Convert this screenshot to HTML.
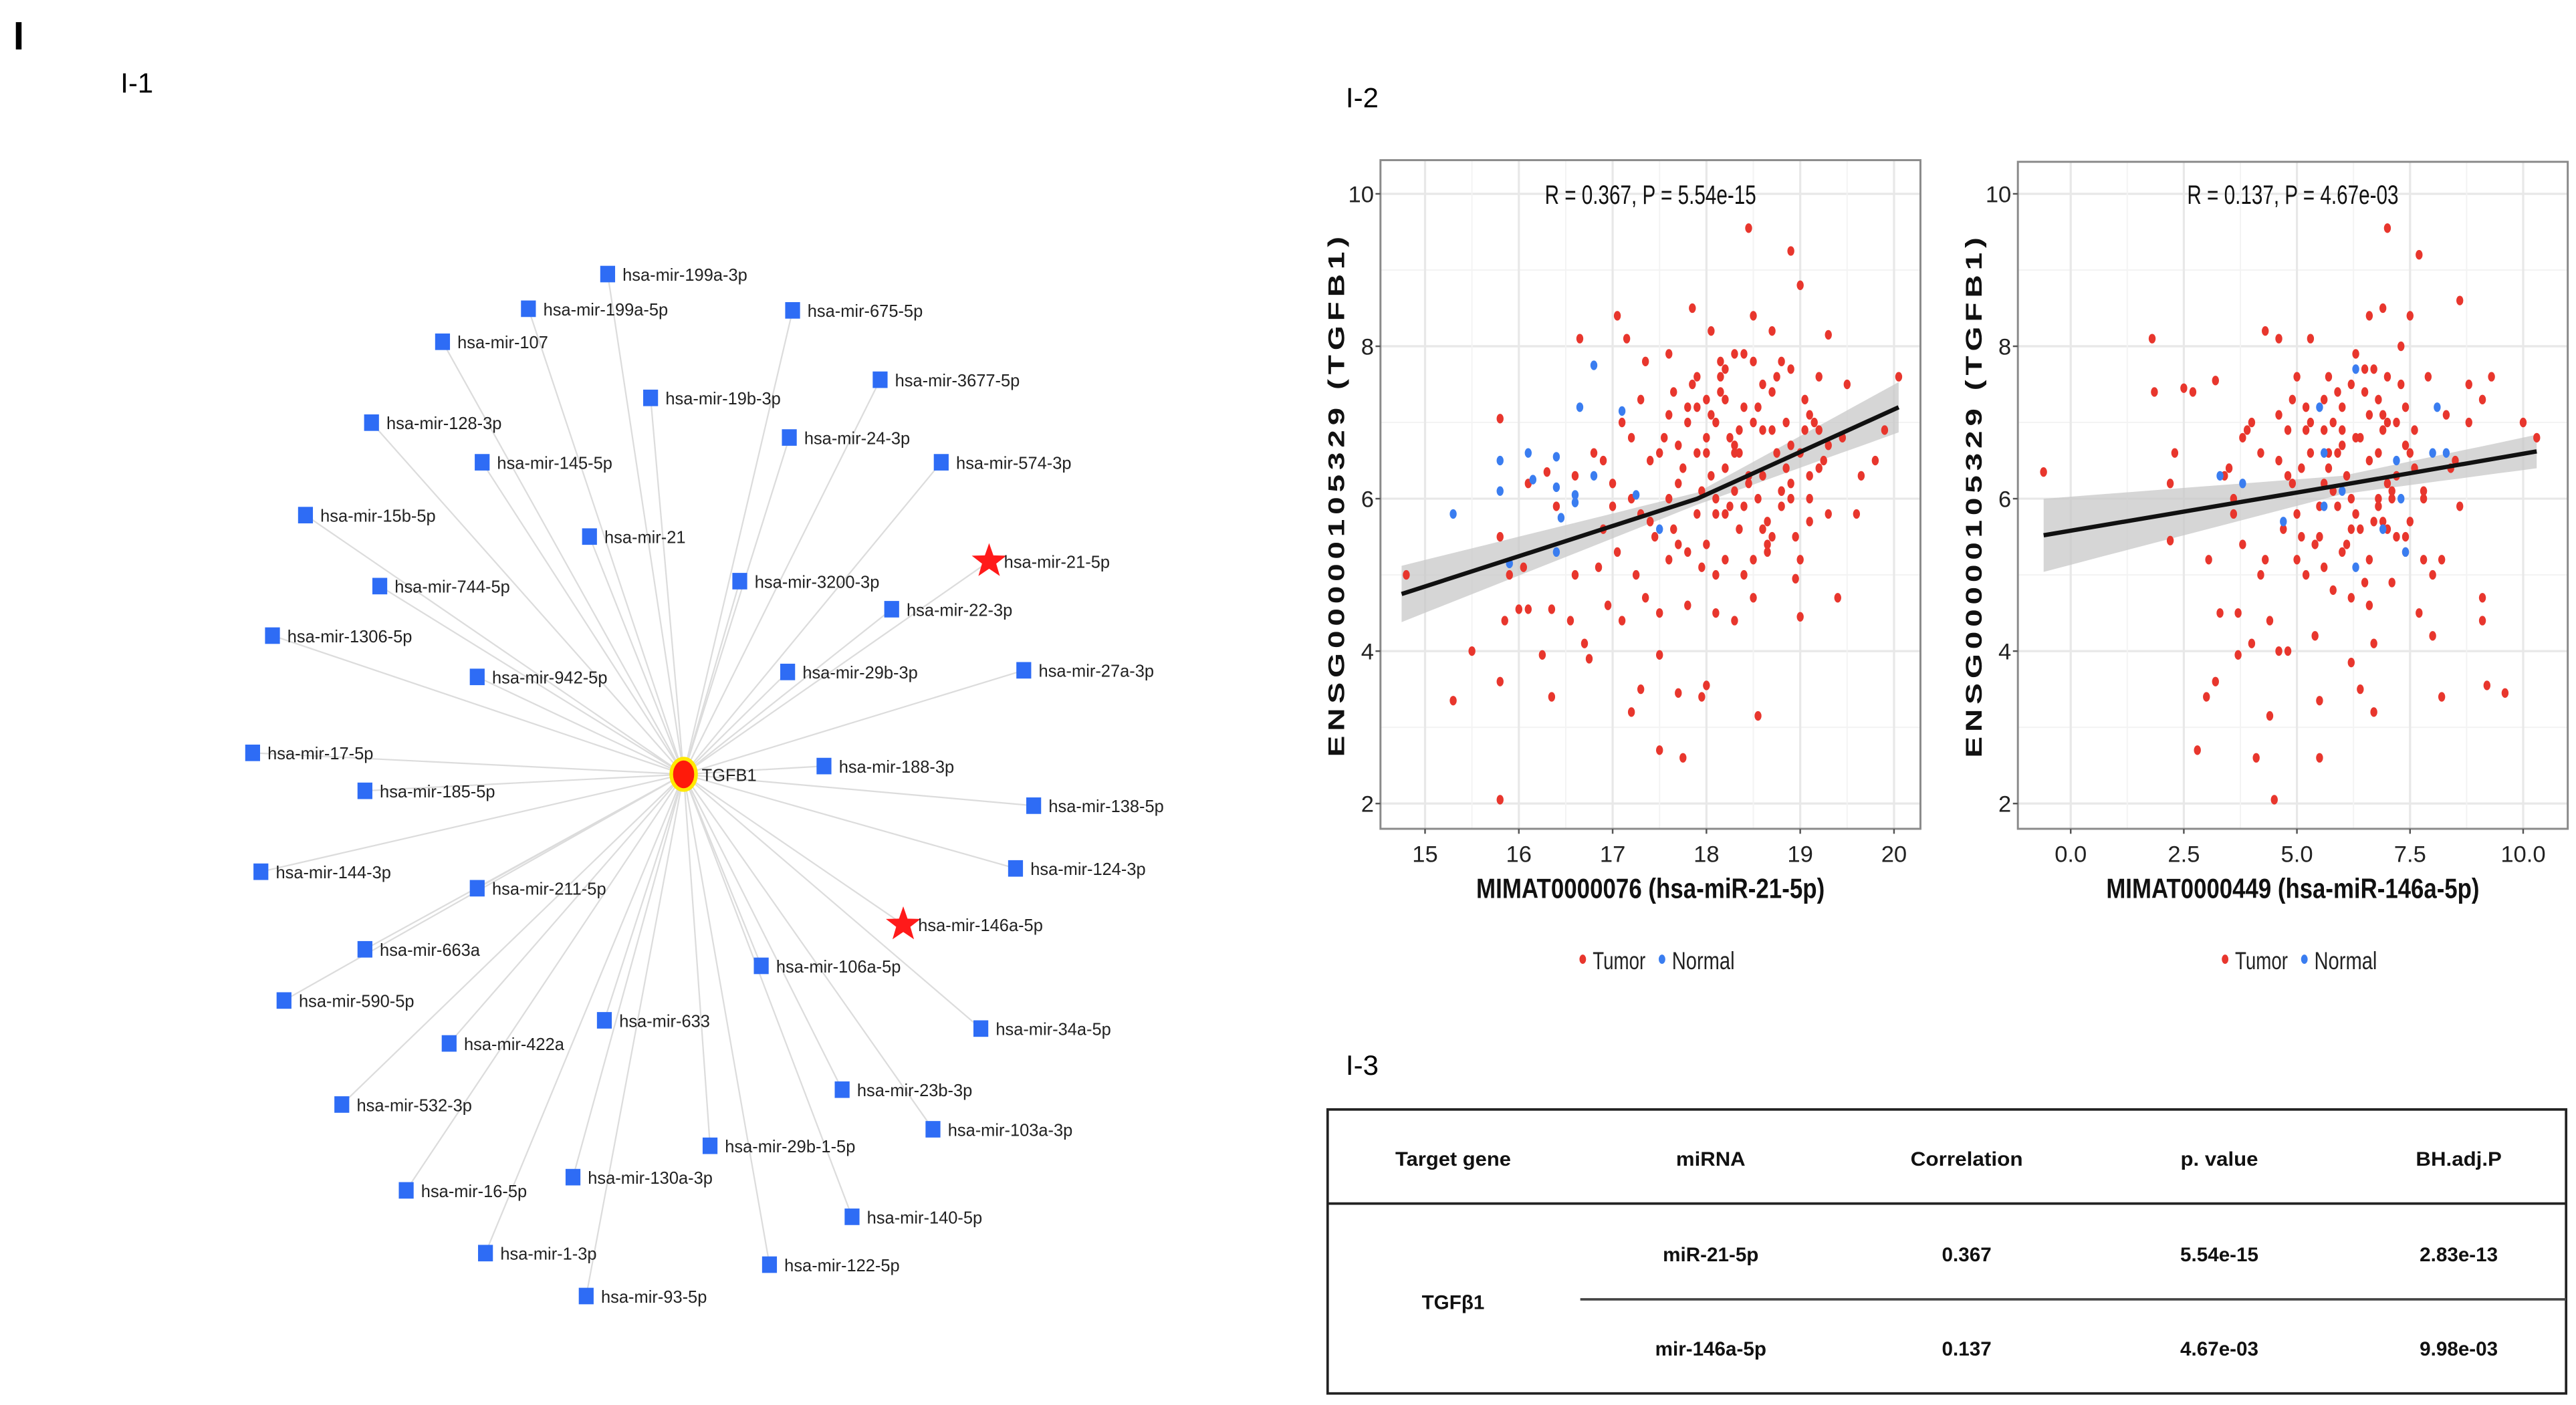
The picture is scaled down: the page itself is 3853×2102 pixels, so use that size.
<!DOCTYPE html>
<html><head><meta charset="utf-8">
<style>
html,body{margin:0;padding:0;background:#fff;}
svg{display:block;}
.nl{font-family:"Liberation Sans",sans-serif;font-size:10.3px;fill:#222;}
.pt{font-family:"Liberation Sans",sans-serif;}
.tb{font-family:"Liberation Sans",sans-serif;font-weight:bold;font-size:12px;fill:#111;}
</style></head>
<body>
<svg id="fig" width="3853" height="2102" viewBox="0 0 1560 851" preserveAspectRatio="none" xmlns="http://www.w3.org/2000/svg">
<text x="8" y="30" font-family="Liberation Sans,sans-serif" font-weight="bold" font-size="24">I</text>
<text x="73" y="56" font-family="Liberation Sans,sans-serif" font-size="17">I-1</text>
<text x="815" y="65" font-family="Liberation Sans,sans-serif" font-size="17">I-2</text>
<text x="815" y="651" font-family="Liberation Sans,sans-serif" font-size="17">I-3</text>
<g id="net"></g>
<g id="p1"></g>
<g id="p2"></g>
<g id="tbl">
  <rect x="804" y="672" width="750" height="172" fill="none" stroke="#222" stroke-width="1.5"/>
  <line x1="804" y1="729" x2="1554" y2="729" stroke="#222" stroke-width="1.5"/>
  <line x1="957" y1="787" x2="1554" y2="787" stroke="#444" stroke-width="1.5"/>
  <g text-anchor="middle" class="tb">
    <text x="880" y="706" textLength="70" lengthAdjust="spacingAndGlyphs">Target gene</text>
    <text x="1036" y="706" textLength="42" lengthAdjust="spacingAndGlyphs">miRNA</text>
    <text x="1191" y="706" textLength="68" lengthAdjust="spacingAndGlyphs">Correlation</text>
    <text x="1344" y="706" textLength="47" lengthAdjust="spacingAndGlyphs">p. value</text>
    <text x="1489" y="706" textLength="52" lengthAdjust="spacingAndGlyphs">BH.adj.P</text>
    <text x="880" y="793">TGFβ1</text>
    <text x="1036" y="764">miR-21-5p</text>
    <text x="1191" y="764">0.367</text>
    <text x="1344" y="764">5.54e-15</text>
    <text x="1489" y="764">2.83e-13</text>
    <text x="1036" y="821">mir-146a-5p</text>
    <text x="1191" y="821">0.137</text>
    <text x="1344" y="821">4.67e-03</text>
    <text x="1489" y="821">9.98e-03</text>
  </g>
</g>
</svg>
<script>
const NS="http://www.w3.org/2000/svg";
// ---- network data ----
const nodeNames=["hsa-mir-199a-3p","hsa-mir-199a-5p","hsa-mir-107","hsa-mir-675-5p","hsa-mir-3677-5p","hsa-mir-19b-3p","hsa-mir-128-3p","hsa-mir-24-3p","hsa-mir-145-5p","hsa-mir-574-3p","hsa-mir-15b-5p","hsa-mir-21","hsa-mir-21-5p","hsa-mir-3200-3p","hsa-mir-744-5p","hsa-mir-22-3p","hsa-mir-1306-5p","hsa-mir-29b-3p","hsa-mir-942-5p","hsa-mir-27a-3p","hsa-mir-17-5p","hsa-mir-188-3p","hsa-mir-185-5p","hsa-mir-138-5p","hsa-mir-144-3p","hsa-mir-124-3p","hsa-mir-211-5p","hsa-mir-146a-5p","hsa-mir-663a","hsa-mir-106a-5p","hsa-mir-590-5p","hsa-mir-633","hsa-mir-34a-5p","hsa-mir-422a","hsa-mir-23b-3p","hsa-mir-532-3p","hsa-mir-103a-3p","hsa-mir-29b-1-5p","hsa-mir-130a-3p","hsa-mir-16-5p","hsa-mir-140-5p","hsa-mir-1-3p","hsa-mir-122-5p","hsa-mir-93-5p"];
const nodeX=[368,320,268,480,533,394,225,478,292,570,185,357,599,448,230,540,165,477,289,620,153,499,221,626,158,615,289,547,221,461,172,366,594,272,510,207,565,430,347,246,516,294,466,355];
const nodeY=[166,187,207,188,230,241,256,265,280,280,312,325,340,352,355,369,385,407,410,406,456,464,479,488,528,526,538,560,575,585,606,618,623,632,660,669,684,694,713,721,737,759,766,785];
const highlighted=["hsa-mir-21-5p","hsa-mir-146a-5p"];
const hub={name:"TGFB1",x:414,y:469};

function el(tag,attrs,parent){const e=document.createElementNS(NS,tag);for(const k in attrs)e.setAttribute(k,attrs[k]);parent.appendChild(e);return e;}
const net=document.getElementById('net');
nodeNames.forEach((n,i)=>{
  const l=el('line',{x1:hub.x,y1:hub.y,x2:nodeX[i],y2:nodeY[i],stroke:'#dcdcdc','stroke-width':0.9},net);
  
  
});
nodeNames.forEach((n,i)=>{
  const g=el('g',{},net);
  
  
  const x=nodeX[i],y=nodeY[i];
  if(highlighted.includes(n)){
    let pts=[];for(let k=0;k<10;k++){const r=k%2?4.5:11;const a=-Math.PI/2+k*Math.PI/5;pts.push((x+r*Math.cos(a)).toFixed(1)+','+(y+r*Math.sin(a)).toFixed(1));}
    el('polygon',{points:pts.join(' '),fill:'#ff1a1a'},g);
  } else {
    el('rect',{x:x-4.5,y:y-5,width:9,height:10,fill:'#2e6cf5'},g);
  }
  const t=el('text',{x:x+9,y:y+4,class:'nl'},g);t.textContent=n;
});
{
  const g=el('g',{},net);
  
  
  el('ellipse',{cx:hub.x,cy:hub.y,rx:7.5,ry:9.5,fill:'#ff1a0a',stroke:'#ffe800','stroke-width':2.2},g);
  const t=el('text',{x:hub.x+11,y:hub.y+4,class:'nl'},g);t.textContent=hub.name;
}

// ---- scatter 1 data ----
const p1TumorX=[14.8,15.3,15.5,15.8,15.8,15.8,15.8,15.85,15.9,16,16.05,16.1,16.1,16.25,16.3,16.35,16.35,16.4,16.55,16.6,16.6,16.65,16.7,16.75,16.8,16.85,16.9,16.95,17.0,17.05,17.05,17.1,17.1,17.15,17.2,17.2,17.25,17.3,17.3,17.35,17.35,17.4,17.45,17.5,17.5,17.5,17.55,17.6,17.65,17.7,17.7,17.75,17.8,17.8,17.85,17.9,17.9,17.95,18.0,18.0,18.0,18.05,18.1,18.1,18.15,18.2,18.25,18.3,18.3,18.35,18.4,18.45,18.45,18.5,18.5,18.55,18.55,18.6,18.65,18.7,18.75,18.8,18.85,18.9,18.9,18.95,19.0,19.0,19.0,19.05,19.1,19.2,19.25,19.3,19.3,19.4,19.45,19.5,19.6,19.65,19.8,19.9,20.05,18.2,17.95,18.6,18.3,17.6,18.9,18.0,18.4,18.7,17.3,18.1,19.1,17.8,18.5,18.2,17.7,18.8,18.35,17.9,18.15,18.65,19.2,17.4,18.05,
17.6,17.75,17.85,17.95,18.05,18.15,18.25,18.35,18.45,18.55,18.65,18.75,18.85,18.95,19.05,19.15,17.65,17.8,18.0,18.1,18.2,18.3,18.4,18.5,18.6,18.7,18.8,18.9,19.0,19.1,17.5,17.7,17.9,18.1,18.3,18.5,18.7,18.9,19.1,19.3,16.9,17.0,17.2,17.4,17.6,18.2,18.4,18.6,18.8,19.2];
const p1TumorY=[5.0,3.35,4.0,3.6,2.05,7.05,5.5,4.4,5.0,4.55,5.1,4.55,6.2,3.95,6.35,3.4,4.55,5.9,4.4,6.3,5.0,8.1,4.1,3.9,6.6,5.1,5.6,4.6,6.2,5.3,8.4,4.4,7.0,8.1,3.2,6.0,5.0,7.3,3.5,7.8,4.7,6.5,5.5,3.95,4.5,2.7,6.8,5.2,7.4,6.2,3.45,2.6,4.6,7.0,8.5,5.8,6.6,3.4,3.55,7.3,5.4,8.2,6.0,4.5,7.6,5.2,6.8,7.9,4.4,5.6,7.2,6.3,9.55,4.7,8.4,3.15,6.0,7.5,5.3,8.2,6.6,5.9,7.0,9.25,6.2,4.95,8.8,5.2,4.45,7.3,6.0,7.6,6.5,5.8,8.15,4.7,6.8,7.5,5.8,6.3,6.5,6.9,7.6,6.4,6.1,6.9,6.1,6.0,6.7,6.8,5.0,5.5,5.8,7.0,6.3,5.3,7.8,5.8,6.7,6.1,6.6,7.2,7.4,5.4,6.4,5.7,7.1,
7.1,6.4,7.5,5.1,6.3,7.8,5.9,6.9,6.2,7.2,5.7,7.6,6.4,5.5,6.9,7.0,5.6,7.2,6.6,5.0,7.3,6.7,5.9,7.0,6.3,7.4,6.1,7.7,6.6,5.7,6.6,5.4,7.6,5.8,6.6,5.2,6.9,6.0,7.1,6.7,6.5,5.9,6.8,5.7,7.9,7.7,7.9,5.6,7.8,6.9];
const p1NormalX=[15.3,15.8,15.8,15.9,16.1,16.15,16.4,16.4,16.45,16.4,16.6,16.6,16.65,16.8,16.8,17.1,17.25,17.5];
const p1NormalY=[5.8,6.5,6.1,5.15,6.6,6.25,6.55,6.15,5.75,5.3,6.05,5.95,7.2,7.75,6.3,7.15,6.05,5.6];
const p1FitX=[14.75,17.9,20.05];
const p1FitY=[4.75,6.0,7.2];
const p1Band=[0.37,0.08,0.33];
const p1XTicks=["15","16","17","18","19","20"];
const p1Title="MIMAT0000076 (hsa-miR-21-5p)";
const p1Stat="R = 0.367, P = 5.54e-15";

// ---- scatter 2 data ----
const p2TumorX=[-0.6,1.8,1.85,2.5,2.7,2.2,2.3,2.2,2.8,3.0,3.05,3.2,3.3,3.2,3.6,3.6,3.7,3.7,3.5,3.4,3.8,3.8,4.0,4.0,4.1,4.2,4.3,4.3,4.4,4.4,4.5,4.6,4.6,4.6,4.7,4.8,4.8,5.0,5.0,5.1,5.2,5.3,5.4,5.5,5.5,5.5,5.6,5.7,5.8,5.9,6.0,6.0,6.2,6.2,6.3,6.4,6.5,6.6,6.6,6.7,6.7,6.8,6.9,6.9,7.0,7.0,7.1,7.2,7.3,7.4,7.5,7.5,7.7,7.7,7.8,7.9,8.0,8.0,8.2,8.2,8.3,8.5,8.6,8.6,8.8,9.1,9.1,9.1,9.3,9.2,9.6,10.0,10.3,6.4,6.1,6.8,5.9,7.2,6.5,5.6,7.0,6.2,5.3,7.6,6.6,5.8,4.9,6.9,6.7,7.1,6.3,5.2,7.4,6.0,6.8,5.7,7.8,
5.0,5.2,5.4,5.6,5.8,6.0,6.2,6.4,6.6,6.8,7.0,7.2,7.4,7.6,4.8,5.1,5.3,5.5,5.7,5.9,6.1,6.3,6.5,6.7,6.9,7.1,7.3,7.5,4.6,4.9,5.6,6.2,6.6,7.0,7.4,7.8,8.4,3.9,4.2,8.8];
const p2TumorY=[6.35,8.1,7.4,7.45,7.4,6.2,6.6,5.45,2.7,3.4,5.2,3.6,4.5,7.55,6.0,5.8,4.5,3.95,6.4,6.3,5.4,6.8,7.0,4.1,2.6,6.6,8.2,5.2,3.15,4.4,2.05,8.1,7.1,4.0,5.6,4.0,6.9,7.6,5.2,6.4,7.2,8.1,4.2,5.5,3.35,2.6,6.9,7.6,4.8,6.6,7.2,5.3,3.85,6.0,7.9,3.5,4.9,8.4,6.5,3.2,4.1,7.3,5.7,8.5,6.2,9.55,4.9,7.0,8.0,5.3,8.4,6.6,9.2,4.5,6.0,7.6,5.0,4.2,5.2,3.4,7.1,6.5,8.6,5.9,7.5,4.4,4.7,7.3,7.6,3.55,3.45,7.0,6.8,6.8,6.3,6.6,5.9,6.3,7.4,6.2,5.6,5.6,6.6,6.9,5.2,7.0,6.2,7.1,7.7,6.0,5.8,5.0,5.5,6.9,5.9,6.4,6.1,
5.8,6.9,5.4,7.3,6.1,6.7,7.5,5.6,7.1,6.0,7.6,5.5,7.2,6.4,6.3,5.5,7.0,5.9,6.6,7.4,5.4,6.8,7.7,5.7,6.9,6.1,7.5,5.7,6.5,7.3,5.1,4.7,4.6,7.0,6.7,5.2,6.4,6.9,5.0,7.0];
const p2NormalX=[3.3,3.8,4.7,5.5,5.6,5.6,6.0,6.3,6.3,6.9,7.2,7.3,7.4,8.1,8.0,8.3];
const p2NormalY=[6.3,6.2,5.7,7.2,6.6,5.9,6.1,7.7,5.1,5.6,6.5,6.0,5.3,7.2,6.6,6.6];
const p2FitX=[-0.6,6.0,10.3];
const p2FitY=[5.52,6.18,6.62];
const p2Band=[0.48,0.12,0.22];
const p2XTicks=["0.0","2.5","5.0","7.5","10.0"];
const p2Title="MIMAT0000449 (hsa-miR-146a-5p)";
const p2Stat="R = 0.137, P = 4.67e-03";

const yTicks=[2,4,6,8,10];

function drawPlot(gid,box,xMin,xMax,xTickVals,xTickLabels,tx,ty,nx,ny,fx,fy,band,title,stat,titleW){
  const g=document.getElementById(gid);
  const sx=v=>box.x0+(v-xMin)/(xMax-xMin)*(box.x1-box.x0);
  const sy=v=>box.y2-(v-2)/8*(box.y2-box.y10);
  el('rect',{x:box.l,y:box.t,width:box.r-box.l,height:box.b-box.t,fill:'#fff'},g);
  for(let v=2;v<=10;v+=1){const y=sy(v);el('line',{x1:box.l,x2:box.r,y1:y,y2:y,stroke:v%2?'#f3f3f3':'#e8e8e8','stroke-width':v%2?0.8:1.3},g);}
  const step=xTickVals[1]-xTickVals[0];
  for(let v=xTickVals[0]-step;v<=xTickVals[xTickVals.length-1]+step;v+=step/2){const x=sx(v);if(x<box.l||x>box.r)continue;const maj=Math.abs((v-xTickVals[0])/step-Math.round((v-xTickVals[0])/step))<1e-6;el('line',{y1:box.t,y2:box.b,x1:x,x2:x,stroke:maj?'#e8e8e8':'#f3f3f3','stroke-width':maj?1.3:0.8},g);}
  let up=[],dn=[];
  for(let i=0;i<fx.length-1;i++){
    for(let k=0;k<=10;k++){const t=k/10;const xv=fx[i]+(fx[i+1]-fx[i])*t;const yv=fy[i]+(fy[i+1]-fy[i])*t;const bw=band[i]+(band[i+1]-band[i])*t;up.push(sx(xv).toFixed(1)+','+sy(yv+bw).toFixed(1));dn.unshift(sx(xv).toFixed(1)+','+sy(yv-bw).toFixed(1));}
  }
  const bp=el('polygon',{points:up.concat(dn).join(' '),fill:'#c8c8c8','fill-opacity':0.75},g);
  
  
  tx.forEach((v,i)=>{const c=el('ellipse',{cx:sx(v),cy:sy(ty[i]),rx:2.1,ry:2.9,fill:'#e8362d'},g);
    
    });
  nx.forEach((v,i)=>{const c=el('ellipse',{cx:sx(v),cy:sy(ny[i]),rx:2.1,ry:2.9,fill:'#3a7df0'},g);
    
    });
  const lp=el('polyline',{points:fx.map((v,i)=>sx(v).toFixed(1)+','+sy(fy[i]).toFixed(1)).join(' '),fill:'none',stroke:'#111','stroke-width':2.6},g);
  
  
  el('rect',{x:box.l,y:box.t,width:box.r-box.l,height:box.b-box.t,fill:'none',stroke:'#8a8a8a','stroke-width':1.2},g);
  yTicks.forEach(v=>{const t=el('text',{x:box.l-4,y:sy(v)+5,'text-anchor':'end',class:'pt','font-size':14,fill:'#222'},g);t.textContent=v;
    
    
    el('line',{x1:box.l-3,x2:box.l,y1:sy(v),y2:sy(v),stroke:'#555'},g);});
  xTickVals.forEach((v,i)=>{const t=el('text',{x:sx(v),y:box.b+20,'text-anchor':'middle',class:'pt','font-size':14,fill:'#222'},g);t.textContent=xTickLabels[i];
    
    
    el('line',{y1:box.b,y2:box.b+3,x1:sx(v),x2:sx(v),stroke:'#555'},g);});
  const xt=el('text',{x:(box.l+box.r)/2,y:box.b+42,'text-anchor':'middle',class:'pt','font-size':17,'font-weight':'bold',fill:'#111',textLength:titleW,lengthAdjust:'spacingAndGlyphs'},g);xt.textContent=title;
  
  
  const cy=(box.t+box.b)/2;
  const yt=el('text',{x:box.l-22,y:cy,'text-anchor':'middle',transform:`rotate(-90 ${box.l-22} ${cy})`,'font-family':'Liberation Sans,sans-serif','font-size':14,'font-weight':'bold','letter-spacing':'2',fill:'#111',textLength:318,lengthAdjust:'spacingAndGlyphs'},g);yt.textContent="ENSG00000105329 (TGFB1)";
  
  
  const st=el('text',{x:(box.l+box.r)/2,y:sy(10)+6,'text-anchor':'middle',class:'pt','font-size':16,fill:'#111',textLength:128,lengthAdjust:'spacingAndGlyphs'},g);st.textContent=stat;
  
  
  const lg=el('g',{},g);
  
  
  const lx=(box.l+box.r)/2-41,ly=box.b+79;
  el('ellipse',{cx:lx,cy:ly,rx:2,ry:2.8,fill:'#e8362d'},lg);
  const t1=el('text',{x:lx+6,y:ly+6,class:'pt','font-size':15,fill:'#222',textLength:32,lengthAdjust:'spacingAndGlyphs'},lg);t1.textContent="Tumor";
  el('ellipse',{cx:lx+48,cy:ly,rx:2,ry:2.8,fill:'#3a7df0'},lg);
  const t2=el('text',{x:lx+54,y:ly+6,class:'pt','font-size':15,fill:'#222',textLength:38,lengthAdjust:'spacingAndGlyphs'},lg);t2.textContent="Normal";
}
drawPlot('p1',{l:836,t:97,r:1163,b:502,x0:863,x1:1147,y10:117.4,y2:486.7},15,20,[15,16,17,18,19,20],p1XTicks,p1TumorX,p1TumorY,p1NormalX,p1NormalY,p1FitX,p1FitY,p1Band,p1Title,p1Stat,211);
drawPlot('p2',{l:1222,t:98,r:1555,b:502,x0:1254,x1:1528,y10:117.4,y2:486.7},0,10,[0,2.5,5,7.5,10],p2XTicks,p2TumorX,p2TumorY,p2NormalX,p2NormalY,p2FitX,p2FitY,p2Band,p2Title,p2Stat,226);
</script>
</body></html>
